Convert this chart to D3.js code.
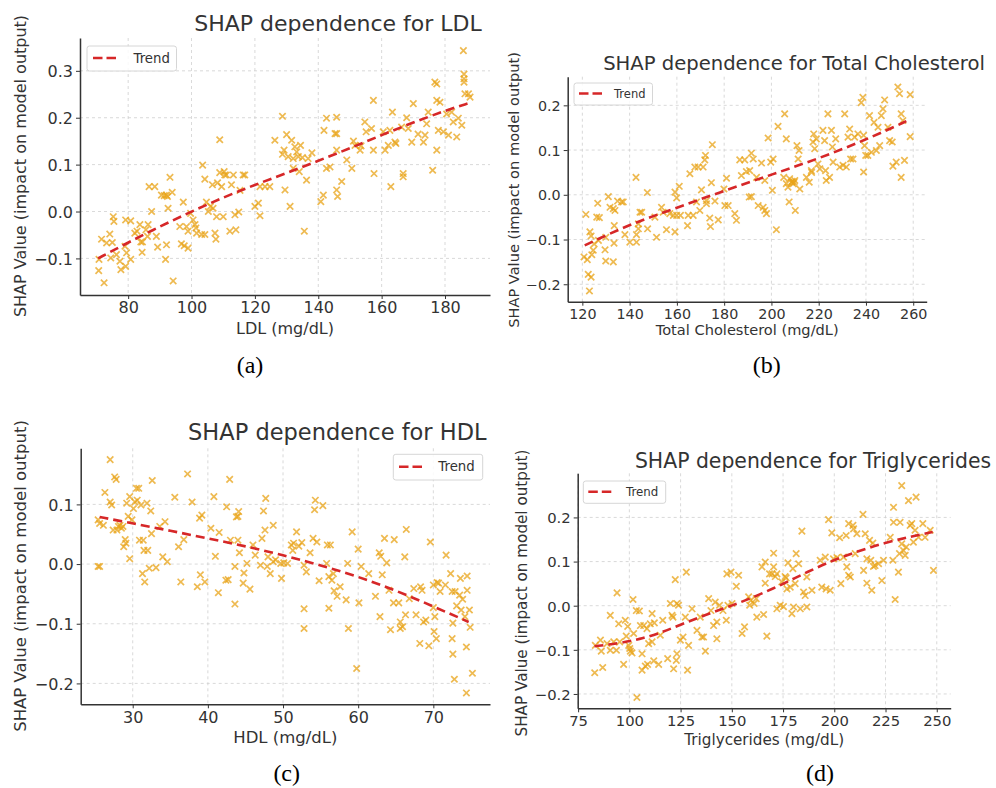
<!DOCTYPE html>
<html><head><meta charset="utf-8">
<script src="https://cdn.jsdelivr.net/npm/d3@7"></script>
<style>
html,body{margin:0;padding:0;background:#fff;}
svg{display:block;}
</style></head>
<body>
<svg id="chart" width="996" height="788"></svg>
<script>
// ---------------- DATA ----------------
const ldlPoints = [
[70.7,-0.126],[72.4,-0.152],[70.8,-0.102],[71.6,-0.059],[74.2,-0.048],[73.2,-0.067],[75,-0.066],[74.5,-0.099],
[75.3,-0.011],[75.5,-0.021],[76.3,-0.092],[77.4,-0.106],[77.7,-0.124],[79.2,-0.117],[79.5,-0.088],[80.8,-0.102],
[79.2,-0.018],[80.8,-0.02],[79,-0.074],
[82.1,-0.046],[82.8,-0.042],[83.7,-0.028],[84,-0.065],[84.5,-0.065],[84.4,-0.087],[85.6,-0.039],[86.3,-0.028],
[86.1,-0.053],[87.4,0.0],[86.6,0.053],[88.4,0.053],[88.9,-0.053],[89.3,-0.076],[90.5,0.035],[91.4,0.034],
[92.1,0.035],[92.4,0.032],[91.8,-0.102],[92.1,-0.071],[93.2,0.073],[93.9,0.041],[94.2,-0.148],[92.6,0.007],
[97.4,0.02],[96.3,-0.032],[96.8,-0.069],[97.7,-0.073],[98.9,-0.078],[98.4,-0.032],[98.9,-0.042],[99.7,-0.004],
[100.5,-0.018],[101.1,-0.028],[101.4,-0.035],[101.6,-0.046],[103.2,-0.049],[104.2,-0.049],[103.5,0.099],
[104.2,0.069],[105.3,0.0],[104.7,0.02],[106,0.011],[106.6,0.057],[106.8,0.007],[107.4,-0.046],[107.7,-0.059],
[107.9,-0.011],[108.2,0.061],[108.9,0.153],[108.9,0.083],[109.5,0.053],[110,-0.011],[110.5,0.078],[111,0.078],
[112.1,-0.042],[113.2,0.078],[112.6,0.057],[113.7,-0.007],[114,-0.039],[114.9,-0.001],[116.3,0.078],[116.8,0.078],
[115.3,0.045],
[120,0.011],[121.1,0.018],[121.6,-0.009],[121.6,0.053],[123.2,0.053],[124.7,0.053],[126.3,0.152],[128.7,0.203],
[128.7,0.122],[129.2,0.131],[129.5,0.046],[130,0.164],[130.5,0.117],[131.1,0.011],[131.6,0.152],[132.1,0.113],
[132.1,0.092],[132.6,0.138],[133.2,0.127],[133.7,0.117],[134,0.085],[134.4,0.141],[135,0.115],[135.6,-0.042],
[136.3,0.067],[136.8,0.113],
[140.8,0.021],[141.6,0.035],[141.8,0.173],[142.6,0.199],[142.6,0.092],[143.7,0.095],[145.3,0.166],[145.8,0.201],
[145.8,0.166],[145.8,0.131],[145.8,0.046],[146.1,0.032],[147.4,0.064],[149,0.11],[150.6,0.092],[151.1,0.15],
[151.6,0.141],[153.2,0.131],[154.7,0.191],[155.1,0.17],[156.8,0.177],[157.4,0.237],[157.6,0.081],[157.4,0.131],
[160.5,0.17],[161.1,0.131],[162.1,0.141],[162.6,0.173],[162.9,0.053],[163.4,0.212],[164.2,0.148],[166.3,0.18],
[166.8,0.081],[166.8,0.074],[167.9,0.2],[168.4,0.177],[169.5,0.148],[170,0.23],[173.2,0.148],[173.7,0.163],
[174.2,0.187],[174.7,0.212],[176.1,0.088],[176.8,0.276],[177.4,0.272],[177.4,0.131],[177.4,0.237],[177.9,0.173],
[178.4,0.233],[179.5,0.17],[180.5,0.208],[181.1,0.163],[182.1,0.212],[182.6,0.191],[183.7,0.159],[184.2,0.199],
[185.3,0.184],[185.8,0.343],[186,0.293],[186,0.283],[186,0.276],[186.3,0.251],[187.4,0.251],[187.9,0.244],
[164.5,0.145],[171.5,0.165],[153.5,0.14],[138,0.125],[110.3,0.085]
];
const ldlTrend = [[70.5,-0.1],[80,-0.066],[90,-0.032],[100,0.0],[110,0.03],[120,0.057],[130,0.082],[140,0.108],
[150,0.135],[160,0.163],[170,0.19],[180,0.215],[187.5,0.231]];

const tcPoints = [
[120.7,-0.139],[121.5,-0.044],[122.1,-0.145],[122.5,-0.178],[123.2,-0.083],[123.7,-0.092],[123.7,-0.184],[123,-0.215],
[124,-0.134],[124.6,-0.124],[125,-0.11],[126.1,-0.05],[126.5,-0.019],[127.2,-0.051],[126.8,-0.102],[129.6,-0.123],
[129.9,-0.148],[129.9,-0.095],[131,-0.004],[131.7,-0.028],[133.1,-0.15],[133.1,-0.031],[133.4,-0.108],[133.5,-0.069],
[133.8,-0.035],[134.9,-0.014],[136.6,-0.016],[137.3,-0.016],[138,-0.089],[140.1,-0.106],[142.7,0.039],[142.9,-0.106],
[142.9,-0.089],[143.7,-0.065],[144.4,-0.039],[145.1,-0.039],[143.7,-0.076],[147.5,0.005],[147.6,-0.076],[150.7,-0.05],
[151.4,-0.095],[153.5,-0.028],[154.2,-0.039],[155.6,-0.078],[157,-0.042],[158.5,-0.046],[159.9,-0.046],[159.2,-0.083],
[159.2,0.006],[159.9,-0.007],[161,0.019],[161.5,-0.046],
[164.5,-0.069],[164.8,-0.046],[165.5,0.047],[166.9,-0.046],[167.6,0.062],[168.3,-0.016],[169,0.062],[169.7,-0.035],
[170.4,0.011],[171.1,0.062],[171.8,0.078],[172.1,0.088],[172.5,-0.013],[172.5,-0.02],[173.9,-0.052],[174.2,-0.071],
[174.6,0.027],[175,0.112],[176.1,-0.014],[177.5,-0.056],[179.9,0.013],[181,0.037],[180.3,-0.024],[181.7,-0.024],
[184.5,-0.042],[185.2,-0.057],[186.6,0.078],[187.3,0.043],[188.7,0.078],[189.4,0.052],[190.8,0.054],[191.5,0.093],
[190.6,-0.005],[191.5,-0.004],[192.3,0.08],[193.7,0.039],[194.4,-0.024],[195.8,0.071],[196.5,-0.028],[197.2,-0.035],
[197.9,-0.042],[197.2,0.032],[198.6,0.127],[199.7,0.073],[200.7,0.08],
[200.4,0.01],[202.1,-0.078],[202.8,0.153],[205.2,0.039],[205.6,0.181],[206.3,0.125],[206.3,0.025],[207,0.017],
[207.5,-0.016],[207.7,0.036],[208.5,0.028],[209.2,0.025],[209.9,0.032],[210.1,-0.035],[210.8,0.11],[211.3,0.08],
[211.7,0.099],[212,0.013],[214.8,0.039],[216,0.028],[216.9,0.054],[217.6,0.118],[217.9,0.136],[218.3,0.103],
[219,0.125],[219.7,0.069],[221.8,0.144],[222.5,0.121],[222.9,0.054],[223.2,0.032],[223.9,0.181],[224.6,0.039],
[225.4,0.144],[225.8,0.107],[226.1,0.073],[227.2,0.125],[228.9,0.062],[230.3,0.066],[231,0.181],[231.7,0.062],
[232.4,0.129],[233.1,0.147],[233.5,0.08],[234.5,0.08],[235.2,0.129],[236.6,0.136],[238,0.206],[238.7,0.218],
[239,0.133],[239.4,0.11],[239.9,0.088],[239,0.051],[240.8,0.088],[241.5,0.177],[242.3,0.095],[243.4,0.162],
[244.4,0.099],[245.1,0.151],[245.8,0.11],[246.5,0.177],[247.2,0.192],[247.9,0.212],[249.3,0.151],[250,0.121],
[251.1,0.118],[251.4,0.064],[252.8,0.073],[253.5,0.241],[254.2,0.226],[254.9,0.181],[254.9,0.039],[256.3,0.077],
[255.6,0.166],[258.7,0.224],[258.7,0.13],[208.8,0.03],[209.6,0.028],[217,0.05],[220.5,0.058]
];
const tcTrend = [[121,-0.113],[140,-0.066],[160,-0.029],[180,0.009],[200,0.045],[220,0.081],[240,0.123],[258.5,0.168]];

const hdlPoints = [
[25.4,-0.004],[25.6,-0.004],[25.4,0.074],[25.6,0.068],[26.1,0.065],[26.3,0.12],[27,0.175],[27,0.104],[27.2,0.099],
[27.4,0.057],[27.6,0.146],[27.8,0.142],[27.9,0.057],[28.1,0.063],[28.3,0.065],[28.5,0.06],[28.7,0.063],[28.8,0.029],
[29,0.041],[29.1,0.035],[29.2,0.102],[29.4,0.08],[29.6,0.113],[29.6,0.009],[29.9,0.074],
[30.1,0.093],[30.3,0.104],[30.5,0.127],[30.8,0.127],[30.6,0.107],[30.9,0.04],[31.1,0.099],[31.3,-0.016],[31.4,0.04],
[31.5,0.023],[31.6,-0.03],[31.9,0.102],[32,0.023],[32.2,-0.007],[32.4,0.089],[32.6,0.14],[32.5,0.051],[33.1,-0.006],
[33.6,0.063],[34,0.012],[34.3,0.071],[34.6,0.004],[35.6,0.112],[36.1,0.029],[36.4,-0.03],[36.8,0.041],[37.3,0.151],
[37.9,0.104],[38.6,-0.038],[38.9,0.077],[39,-0.018],[39.2,0.082],[39.6,-0.03],
[40.4,0.06],[40.8,0.113],[41,0.013],[41.4,-0.048],[41.5,0.053],[42.4,-0.027],[42.5,0.096],[42.7,-0.026],[42.9,0.142],
[43,0.04],[43.6,-0.067],[43.6,-0.004],[43.8,0.079],[44,0.08],[44,0.04],[44.1,0.088],[44.2,0.019],[44.7,-0.032],
[44.8,-0.015],[45.2,0.001],[45.6,-0.042],[46,0.032],[46.3,0.015],[47,-0.002],[47.2,0.043],[47.4,0.089],[47.6,0.057],
[47.7,0.11],[47.9,-0.004],[48,0.012],[48.3,-0.016],[48.7,0.065],[48.7,0.004],[49,0.007],[49.7,0.001],[49.8,-0.024],
[50.1,0.002],[50.6,0.001],[51.1,0.032],[51.3,0.023],[51.4,0.035],[51.8,0.054],[52.1,0.03],[52.5,0.036],[52.8,-0.075],
[52.8,-0.108],[52.8,-0.002],[53.1,-0.013],[53.6,0.019],[54,0.043],[54.2,0.091],[54.3,0.107],[54.5,0.037],[54.8,-0.028],
[55.3,0.098],[55.8,0.001],[55.9,0.032],[56.1,-0.074],[56.1,-0.021],[56.3,0.032],[56.5,-0.027],[56.7,-0.016],
[56.8,-0.045],[57.2,-0.054],[57.6,-0.038],[58.4,-0.06],[58.6,0.001],[58.7,-0.108],[59.2,0.054],[59.8,-0.175],[60,0.025],
[60.1,-0.065],[60.4,-0.004],[61.4,-0.016],[62.3,-0.054],[62.8,0.019],[62.9,-0.088],[63,0.013],[63.2,-0.018],
[63.5,0.043],[63.8,0.002],[64.1,-0.044],[64.3,-0.11],[64.7,-0.065],[64.8,0.041],[65.4,-0.065],[65.6,-0.097],
[65.6,-0.108],[65.9,-0.105],[66.2,0.012],[66.3,-0.085],[66.4,0.058],[66.8,-0.058],[67.4,-0.041],[67.7,-0.085],
[68.2,-0.133],[68.3,-0.038],[68.5,-0.044],[68.7,-0.097],[69,-0.094],[69.4,-0.137],[69.6,0.037],[70,-0.035],[70,-0.073],
[70.1,-0.113],[70.2,-0.088],[70.4,-0.125],[70.5,-0.031],[70.7,-0.032],[70.9,-0.046],[71.6,-0.035],[71.7,0.015],
[72.3,-0.016],[72.5,-0.046],[72.5,-0.125],[72.6,-0.151],[72.6,-0.099],[72.8,-0.193],[72.9,-0.046],[73.1,-0.07],
[73.5,-0.052],[73.6,-0.024],[73.7,-0.077],[73.9,-0.059],[74.2,-0.088],[74.4,-0.139],[74.5,-0.044],[74.5,-0.02],
[74.4,-0.216],[74.8,-0.077],[74.9,-0.106],[75.2,-0.183]
];
const hdlTrend = [[25.6,0.079],[30,0.068],[35,0.056],[40,0.043],[45,0.03],[50,0.015],[55,-0.002],[60,-0.021],
[65,-0.044],[70,-0.071],[74.7,-0.097]];

const tgPoints = [
[83.1,-0.152],[83.4,-0.09],[85.9,-0.078],[86.3,-0.103],[87,-0.14],[89.1,-0.086],[90.7,-0.022],[90.7,-0.101],
[92.4,-0.082],[93.7,-0.101],[94,0.029],[94.8,-0.041],[95.3,-0.082],[97.2,-0.133],[98,-0.033],[98.5,-0.069],
[99.2,-0.047],[99.7,-0.09],[100.2,-0.097],[100.5,-0.103],[101.3,-0.107],[101.8,0.014],[102.1,-0.063],[103.4,-0.011],
[103.7,-0.208],[104.9,-0.012],[105.4,-0.045],[106.2,-0.109],[106.2,-0.146],[107,-0.045],[107.8,-0.137],[108.6,-0.052],
[108.9,-0.133],[109.4,-0.086],[110.2,-0.041],[111.1,-0.018],[111.1,-0.082],[111.9,-0.125],[112.2,-0.039],
[114.3,-0.133],[115.1,-0.067],[116.3,-0.033],
[118.7,-0.12],[120,0.005],[120.8,-0.022],[121.3,-0.026],[121.6,-0.143],[122.4,0.059],[122.9,-0.124],[123.2,0.005],
[123.2,-0.109],[124,0.001],[124.9,-0.078],[126.2,-0.071],[127.3,-0.026],[127.8,0.076],[128.4,-0.146],[128.9,-0.09],
[130.6,-0.007],[133,-0.056],[134.6,-0.026],[135.4,-0.071],[136.2,-0.071],[137.1,-0.103],[138.7,0.016],[139.8,-0.011],
[141.1,-0.045],[141.9,0.008],[142.7,-0.075],[142.7,-0.037],[144,0.001],[145.7,-0.011],[147.3,-0.033],[147.6,0.072],
[148.1,0.001],[149.6,0.076],[150.1,0.005],
[152.2,0.044],[153.3,0.069],[155,-0.063],[156.2,-0.048],[158.2,0.02],[158.7,0.001],[159.3,0.012],[160.9,0.005],
[162.2,-0.026],[161.9,0.016],[164.7,0.088],[165.5,-0.02],[166.3,0.051],[166.3,0.099],[167.1,-0.069],[168.4,0.072],
[169.6,0.072],[170.4,0.119],[170.4,0.088],[171.2,0.066],[172,0.072],[172,-0.007],[173.6,0.001],[174.4,0.054],
[175.2,-0.002],[176,0.066],[176.5,0.063],[176.9,0.038],[177.4,0.097],[178.5,0.042],[179.3,-0.018],[179.8,0.084],
[180.1,-0.003],[180.9,0.05],[181.4,0.118],[182.6,0.095],[183.4,-0.007],[184.2,0.169],[185,0.031],[185.8,0.023],
[186.6,-0.003],[186.6,0.065],[189.1,0.035],[193.1,0.103],[193.9,0.042],[195.6,0.11],[196,0.038],[197.2,0.195],
[198,0.035],[198.8,0.165],[199.6,0.106],
[201.3,0.109],[202.6,0.154],[203.2,0.05],[204.5,0.11],[205.8,0.159],[206.1,0.088],[207,0.186],[207,0.069],
[207.8,0.065],[209.1,0.182],[209.4,0.174],[210.2,0.118],[211,0.163],[214,0.207],[214.3,0.08],[215.1,0.163],
[215.9,0.106],[215.9,0.051],[217.2,0.148],[217.8,0.103],[218.3,0.035],[218.8,0.142],[219.1,0.089],[219.9,0.091],
[221.6,0.095],[223.2,0.057],[224,0.103],[227.3,0.155],[228.6,0.103],[228.9,0.223],[228.9,0.189],[229.7,0.014],
[231.3,0.076],[231.8,0.118],[232.1,0.189],[232.9,0.272],[232.9,0.14],[233.8,0.125],[234.6,0.114],[235.1,0.133],
[236.2,0.238],[237,0.182],[237.8,0.186],[238.6,0.144],[239.4,0.171],[239.9,0.246],[241.1,0.155],[243.2,0.186],
[244.3,0.155],[246.8,0.171],[248.4,0.08]
];
const tgTrend = [[83,-0.092],[95,-0.085],[105,-0.076],[115,-0.062],[125,-0.043],[137,-0.021],[150,0.0],[162,0.022],
[175,0.049],[187,0.077],[200,0.104],[212,0.124],[225,0.143],[237,0.156],[248,0.167]];

const ldlXTicks = [80,100,120,140,160,180];
const tcXTicks = [120,140,160,180,200,220,240,260];
const hdlXTicks = [30,40,50,60,70];
const tgXTicks = [75,100,125,150,175,200,225,250];
const ldlYTicks = [-0.1,0.0,0.1,0.2,0.3];
const tcYTicks = [-0.2,-0.1,0.0,0.1,0.2];
const hdlYTicks = [-0.2,-0.1,0.0,0.1];
const tgYTicks = [-0.2,-0.1,0.0,0.1,0.2];

const titles = ["SHAP dependence for LDL","SHAP dependence for Total Cholesterol","SHAP dependence for HDL","SHAP dependence for Triglycerides"];
const xLabels = ["LDL (mg/dL)","Total Cholesterol (mg/dL)","HDL (mg/dL)","Triglycerides (mg/dL)"];
const yLabel = "SHAP Value (impact on model output)";
const panelTags = ["(a)","(b)","(c)","(d)"];
const legendLabel = "Trend";

// ---------------- LAYOUT ----------------
const panels = [
 {pts:ldlPoints, trend:ldlTrend, xt:ldlXTicks, yt:ldlYTicks, xd:[64.8,194.2], yd:[-0.178,0.37],
  L:80, R:490, T:38, B:295, fs:16, tfs:22, tickFs:16, titleX:338, titleY:31, xlY:334, ylX:25.5, ylY:166,
  tagX:250, tagY:373, lg:{x:87,y:46,w:89.5,h:25,l1:93,l2:119,ly:58,tx:133.5,ty:62.5,fs:13.3}},
 {pts:tcPoints, trend:tcTrend, xt:tcXTicks, yt:tcYTicks, xd:[113.8,265.7], yd:[-0.239,0.264],
  L:567.7, R:926.7, T:76.7, B:301.7, fs:14.6, tfs:19.6, tickFs:14.3, titleX:794, titleY:70, xlY:335, ylX:519, ylY:190,
  tagX:766.7, tagY:373, lg:{x:574,y:83,w:78.5,h:22,l1:579,l2:602,ly:93.5,tx:614,ty:97.5,fs:11.5}},
 {pts:hdlPoints, trend:hdlTrend, xt:hdlXTicks, yt:hdlYTicks, xd:[23.08,77.54], yd:[-0.235,0.194],
  L:80.7, R:490, T:448.3, B:704.3, fs:16.5, tfs:22.5, tickFs:16, titleX:337.3, titleY:440, xlY:743, ylX:26, ylY:576,
  tagX:286.7, tagY:781, lg:{x:393.3,y:454.3,w:89.4,h:25.7,l1:399,l2:425,ly:466.7,tx:438.3,ty:471.3,fs:13.3}},
 {pts:tgPoints, trend:tgTrend, xt:tgXTicks, yt:tgYTicks, xd:[74.8,256.8], yd:[-0.2325,0.30],
  L:577.7, R:950.7, T:473.3, B:708.3, fs:15.2, tfs:20.4, tickFs:14.8, titleX:813, titleY:468.3, xlY:745, ylX:527, ylY:593,
  tagX:820, tagY:781, lg:{x:583.3,y:481,w:82.4,h:22.3,l1:588.3,l2:613.3,ly:491.7,tx:626,ty:496,fs:11.8}}
];

const FONT = "'DejaVu Sans', sans-serif";
const TXT = "#333333";
const svg = d3.select("#chart");
const fmt = d3.format(".1f");

panels.forEach((p, i) => {
  const x = d3.scaleLinear().domain(p.xd).range([p.L, p.R]);
  const y = d3.scaleLinear().domain(p.yd).range([p.B, p.T]);
  const g = svg.append("g");

  // grid
  g.append("g").selectAll("line").data(p.xt).join("line")
    .attr("x1", d => x(d)).attr("x2", d => x(d)).attr("y1", p.T).attr("y2", p.B)
    .attr("stroke", "#cfcfcf").attr("stroke-width", 0.8).attr("stroke-dasharray", "3,3");
  g.append("g").selectAll("line").data(p.yt).join("line")
    .attr("x1", p.L).attr("x2", p.R).attr("y1", d => y(d)).attr("y2", d => y(d))
    .attr("stroke", "#cfcfcf").attr("stroke-width", 0.8).attr("stroke-dasharray", "3,3");

  // axes
  const xa = g.append("g").attr("transform", `translate(0,${p.B})`)
    .call(d3.axisBottom(x).tickValues(p.xt).tickSize(4).tickPadding(3).tickSizeOuter(0).tickFormat(d3.format("d")));
  const ya = g.append("g").attr("transform", `translate(${p.L},0)`)
    .call(d3.axisLeft(y).tickValues(p.yt).tickSize(4).tickPadding(3).tickSizeOuter(0).tickFormat(fmt));
  [xa, ya].forEach(a => {
    a.select(".domain").attr("stroke", "#333").attr("stroke-width", 1.5);
    a.selectAll(".tick line").attr("stroke", "#333").attr("stroke-width", 1);
    a.selectAll("text").attr("fill", TXT).style("font-family", FONT).style("font-size", p.tickFs + "px");
  });
  ya.selectAll("text").attr("dy", "0.36em");

  // points
  const s = 3.2;
  g.append("g").selectAll("path").data(p.pts).join("path")
    .attr("d", `M${-s},${-s}L${s},${s}M${-s},${s}L${s},${-s}`)
    .attr("transform", d => `translate(${x(d[0])},${y(d[1])})`)
    .attr("stroke", "#E8A317").attr("stroke-opacity", 0.75).attr("stroke-width", 1.7).attr("fill", "none");

  // trend
  const line = d3.line().x(d => x(d[0])).y(d => y(d[1])).curve(d3.curveBasis);
  g.append("path").datum(p.trend).attr("d", line)
    .attr("fill", "none").attr("stroke", "#d62728").attr("stroke-width", 2.6).attr("stroke-dasharray", "9,5");

  // legend
  const lg = p.lg;
  g.append("rect").attr("x", lg.x).attr("y", lg.y).attr("width", lg.w).attr("height", lg.h)
    .attr("rx", 2.5).attr("fill", "#fff").attr("fill-opacity", 0.85).attr("stroke", "#d6d6d6").attr("stroke-width", 1);
  g.append("line").attr("x1", lg.l1).attr("x2", lg.l2).attr("y1", lg.ly).attr("y2", lg.ly)
    .attr("stroke", "#d62728").attr("stroke-width", 2.6).attr("stroke-dasharray", "9.5,4");
  g.append("text").attr("x", lg.tx).attr("y", lg.ty).text(legendLabel)
    .attr("fill", TXT).style("font-family", FONT).style("font-size", lg.fs + "px");

  // title
  g.append("text").attr("x", p.titleX).attr("y", p.titleY).attr("text-anchor", "middle").text(titles[i])
    .attr("fill", TXT).style("font-family", FONT).style("font-size", p.tfs + "px");
  // x label
  g.append("text").attr("x", (p.L + p.R) / 2).attr("y", p.xlY).attr("text-anchor", "middle").text(xLabels[i])
    .attr("fill", TXT).style("font-family", FONT).style("font-size", p.fs + "px");
  // y label
  g.append("text").attr("transform", `translate(${p.ylX},${p.ylY}) rotate(-90)`).attr("text-anchor", "middle")
    .text(yLabel).attr("fill", TXT).style("font-family", FONT).style("font-size", p.fs + "px");
  // panel tag
  g.append("text").attr("x", p.tagX).attr("y", p.tagY).attr("text-anchor", "middle").text(panelTags[i])
    .attr("fill", "#000").style("font-family", "'Liberation Serif','Times New Roman',serif").style("font-size", "24px");
});
</script>
</body></html>
